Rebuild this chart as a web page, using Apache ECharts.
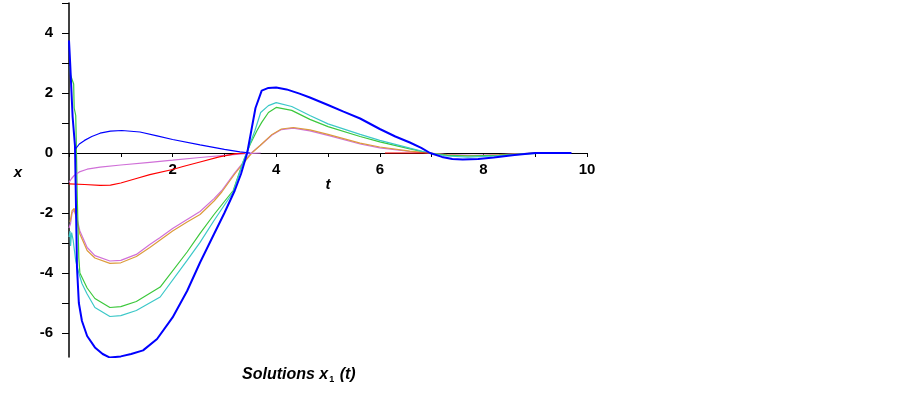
<!DOCTYPE html>
<html>
<head>
<meta charset="utf-8">
<script src="https://cdn.jsdelivr.net/npm/echarts@6/dist/echarts.min.js"></script>
<style>
html,body{margin:0;padding:0;background:#fff;}
#chart{width:903px;height:393px;}
</style>
</head>
<body>
<div id="chart"></div>
<script>
// ---- data ----
const tBig = [0,0.02,0.025,0.06,0.07,0.115,0.12,0.154,0.19,0.25,0.35,0.5,0.65,0.79,1.0,1.2,1.43,1.7,2.0,2.28,2.53,2.8,3.0,3.2,3.32,3.44,3.52,3.6,3.72,3.85,4.0,4.2,4.45,4.65,5.0,5.3,5.62,6.0,6.3,6.58,6.8,6.97,7.2,7.4,7.6,7.9,8.2,8.6,9.0,9.7];
const xBig = [3.75,3.7,2.9,2.85,1.2,0.25,-0.15,-3.8,-5.0,-5.6,-6.1,-6.48,-6.7,-6.82,-6.78,-6.7,-6.58,-6.2,-5.48,-4.6,-3.65,-2.7,-2.0,-1.25,-0.7,0,0.75,1.5,2.08,2.17,2.18,2.12,1.98,1.85,1.6,1.38,1.15,0.8,0.55,0.35,0.17,0,-0.13,-0.2,-0.22,-0.2,-0.15,-0.07,0,0];

const tCyan = [0,0.02,0.03,0.05,0.08,0.13,0.19,0.25,0.35,0.5,0.79,1.0,1.3,1.76,2.28,2.53,2.8,3.17,3.36,3.45,3.59,3.7,3.85,4.0,4.3,4.65,5.0,5.62,6.0,6.58,6.95,7.3,7.7,8.2,8.8,9.2];
const xCyan = [-2.8,-2.6,-3.1,-2.65,-2.9,-3.6,-4.0,-4.35,-4.7,-5.15,-5.45,-5.42,-5.25,-4.8,-3.58,-2.98,-2.25,-1.3,-0.3,0.1,0.75,1.35,1.58,1.68,1.55,1.25,0.97,0.62,0.42,0.16,0,-0.1,-0.14,-0.1,-0.04,0];

const tGreen = [0.02,0.03,0.09,0.1,0.13,0.14,0.16,0.19,0.21,0.35,0.5,0.79,1.0,1.3,1.76,2.28,2.53,2.8,3.17,3.36,3.5,3.63,3.72,3.85,4.0,4.3,4.65,5.0,5.62,6.0,6.58,6.95,7.3,7.7,8.3,9.0];
const xGreen = [2.9,2.6,2.3,1.5,1.25,0.4,-1.5,-3.5,-4.0,-4.5,-4.85,-5.15,-5.12,-4.95,-4.47,-3.3,-2.68,-2.05,-1.25,-0.3,0.3,0.75,1.02,1.35,1.52,1.42,1.12,0.88,0.55,0.37,0.14,0,-0.08,-0.1,-0.08,0];

const tOrange = [0.02,0.06,0.1,0.15,0.21,0.35,0.5,0.79,1.0,1.3,1.56,1.76,2.0,2.28,2.53,2.8,2.95,3.2,3.36,3.53,3.69,3.92,4.1,4.33,4.65,5.0,5.62,6.0,6.58,6.95,7.3,7.8,8.3,9.0];
const xOrange = [-2.3,-1.92,-1.85,-2.25,-2.7,-3.25,-3.5,-3.68,-3.66,-3.45,-3.15,-2.9,-2.6,-2.3,-2.05,-1.6,-1.3,-0.7,-0.35,0,0.25,0.62,0.8,0.85,0.77,0.62,0.33,0.2,0.06,0,-0.06,-0.1,-0.06,0];

const tViolet = [0,0.03,0.06,0.1,0.15,0.21,0.35,0.5,0.79,1.0,1.3,1.56,1.76,2.0,2.28,2.53,2.8,2.95,3.2,3.36,3.53,3.69,3.92,4.1,4.33,4.65,5.0,5.62,6.0,6.58,6.95,7.3,7.8,8.3,9.0];
const xViolet = [-2.5,-2.35,-2.0,-1.9,-2.15,-2.6,-3.15,-3.42,-3.6,-3.58,-3.38,-3.05,-2.82,-2.52,-2.22,-1.95,-1.52,-1.25,-0.66,-0.32,0.02,0.25,0.6,0.78,0.83,0.74,0.59,0.3,0.17,0.05,0,-0.05,-0.08,-0.05,0];

const tSmall = [0.11,0.2,0.3,0.44,0.6,0.8,1.02,1.37,1.7,2.0,2.53,3.0,3.3,3.5];
const xSmall = [0.1,0.3,0.42,0.55,0.66,0.73,0.75,0.7,0.57,0.45,0.27,0.12,0.04,0];

const tMag = [0,0.05,0.1,0.2,0.35,0.6,1.0,1.56,2.0,2.53,3.0,3.4,3.7];
const xMag = [-0.98,-0.85,-0.75,-0.63,-0.54,-0.47,-0.4,-0.31,-0.24,-0.15,-0.08,-0.02,0];

const tRed = [0,0.3,0.6,0.8,1.0,1.3,1.56,2.0,2.2,2.53,2.9,3.2,3.4,5.0,6.1,6.97];
const xRed = [-1.03,-1.05,-1.08,-1.07,-1.0,-0.85,-0.72,-0.55,-0.45,-0.3,-0.13,-0.03,0,null,0,0];

const yTickValues = [-6,-5,-4,-3,-2,-1,0,1,2,3,4,5];
const yLabelValues = [-6,-4,-2,0,2,4];
const xLabelValues = [2,4,6,8,10];
const yMin = -6.8, yMax = 5;

// ---- build ----
function pairs(t, v) { return t.map((tt, i) => [tt, v[i] === null ? '-' : v[i]]); }
function line(name, t, v, color, width) {
  return { name, type: 'line', data: pairs(t, v), showSymbol: false, symbol: 'none',
    lineStyle: { color, width }, itemStyle: { color }, connectNulls: false, animation: false };
}

const W = 903, H = 393;
const gridTop = 3, gridBottom = 36;
const gridH = H - gridTop - gridBottom;
const zeroOffset = -gridH * (0 - yMin) / (yMax - yMin); // move x axis up to value 0

const chart = echarts.init(document.getElementById('chart'), null, { renderer: 'canvas' });
const FF = 'Liberation Sans, Arial, sans-serif';
const labelFont = { color: '#000', fontSize: 15, fontWeight: 'bold', fontFamily: FF };
chart.setOption({
  animation: false,
  backgroundColor: '#fff',
  grid: { left: 69, right: 316, top: gridTop, bottom: gridBottom, containLabel: false, outerBoundsMode: 'none' },
  title: {
    text: '{a|Solutions x}{s|1}{a| (}{a|t}{a|)}',
    left: 237, top: 360,
    textStyle: { rich: {
      a: { fontSize: 16, lineHeight: 19, fontStyle: 'italic', fontWeight: 'bold', color: '#000', fontFamily: FF },
      s: { fontSize: 9, lineHeight: 9, verticalAlign: 'bottom', fontWeight: 'bold', color: '#000', fontFamily: FF, padding: [0, 1, 0, 1] }
    } }
  },
  xAxis: {
    type: 'value', min: 0, max: 10, interval: 1,
    position: 'bottom', offset: zeroOffset,
    name: 't', nameLocation: 'middle', nameGap: 24, nameMoveOverlap: false,
    nameTextStyle: { fontSize: 15, fontStyle: 'italic', fontWeight: 'bold', color: '#000', fontFamily: FF },
    axisLine: { onZero: false, lineStyle: { color: '#000', width: 1 } },
    axisTick: { length: 4, lineStyle: { color: '#000', width: 1 } },
    axisLabel: Object.assign({ customValues: xLabelValues, margin: 9 }, labelFont),
    splitLine: { show: false }
  },
  yAxis: {
    type: 'value', min: yMin, max: yMax,
    name: 'x', nameLocation: 'middle', nameGap: 47, nameRotate: 0, nameMoveOverlap: false,
    nameTextStyle: { fontSize: 15, fontStyle: 'italic', fontWeight: 'bold', color: '#000', fontFamily: FF, verticalAlign: 'bottom' },
    axisLine: { onZero: false, lineStyle: { color: '#000', width: 1.5 } },
    axisTick: { customValues: yTickValues, length: 7, lineStyle: { color: '#000', width: 1 } },
    axisLabel: Object.assign({ customValues: yLabelValues, margin: 16 }, labelFont),
    splitLine: { show: false }
  },
  series: [
    line('violet', tViolet, xViolet, '#d070d8', 1.2),
    line('orange', tOrange, xOrange, '#dc9c3c', 1.2),
    line('green', tGreen, xGreen, '#3cc83c', 1.2),
    line('cyan', tCyan, xCyan, '#3cc8c8', 1.2),
    line('magenta', tMag, xMag, '#d070d8', 1.2),
    line('red', tRed, xRed, '#ff0000', 1.2),
    line('blueSmall', tSmall, xSmall, '#0000ff', 1.2),
    line('blueBig', tBig, xBig, '#0000ff', 2)
  ]
});
</script>
</body>
</html>
